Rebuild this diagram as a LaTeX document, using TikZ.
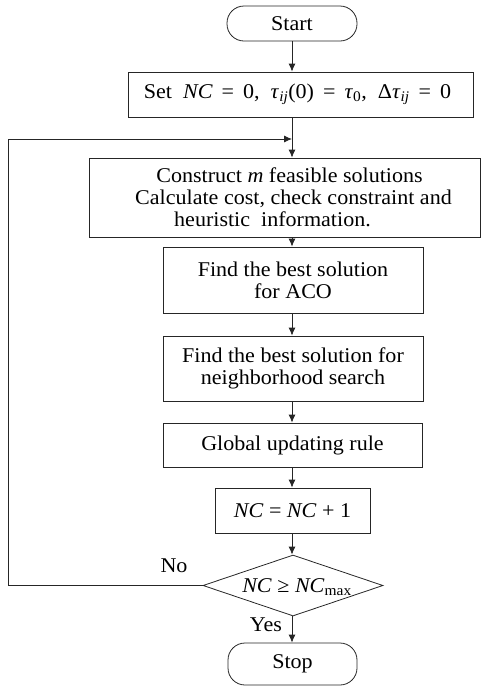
\documentclass[tikz,border=0pt]{standalone}
\usepackage{fontspec}
\setmainfont{Liberation Serif}[FakeStretch=1.05]
\usetikzlibrary{arrows.meta,shapes.geometric}
\tikzset{
  base/.style={draw=black!85, line width=0.8pt, font=\fontsize{21}{22}\selectfont, align=center, inner sep=2pt},
  procbox/.style={base, rectangle},
  termbox/.style={base, rectangle, rounded corners=17pt},
  decbox/.style={base, diamond, inner sep=0pt},
  lbl/.style={font=\fontsize{21}{22}\selectfont, inner sep=0pt},
  arr/.style={draw=black!85, line width=0.8pt, -{Latex[length=8pt,width=7pt]}},
  ln/.style={draw=black!85, line width=0.8pt}
}
\begin{document}
\begin{tikzpicture}[x=1pt,y=-1pt]
\useasboundingbox (0,0) rectangle (482,686);
\node[termbox, minimum width=130pt, minimum height=35pt] (start) at (292,23.5) {Start};
\node[procbox, minimum width=345pt, minimum height=45pt] (set) at (300.5,94.5)
  {Set\ \ \textit{NC} \,=\, 0,\ \ \textit{τ}\textsubscript{\textit{ij}}(0) \,=\, \textit{τ}\textsubscript{0},\ \ Δ\textit{τ}\textsubscript{\textit{ij}} \,=\, 0\hspace*{6pt}};
\node[procbox, minimum width=391pt, minimum height=79pt] (cons) at (284.5,197.5)
  {\hspace*{10pt}Construct \textit{m} feasible solutions\\\hspace*{18pt}Calculate cost, check constraint and\\heuristic\ \ information.\hspace*{24pt}};
\node[procbox, minimum width=260pt, minimum height=66pt] (aco) at (293,280)
  {Find the best solution\\for ACO};
\node[procbox, minimum width=260pt, minimum height=65pt] (ns) at (293,368.5)
  {Find the best solution for\\neighborhood search};
\node[procbox, minimum width=259pt, minimum height=44pt] (glob) at (292.5,445)
  {Global updating rule};
\node[procbox, minimum width=155pt, minimum height=45pt] (inc) at (292.5,510.5)
  {\textit{NC} = \textit{NC} + 1};
\node[decbox, minimum width=180pt, minimum height=61pt] (dec) at (293,585.5) {};
\node[lbl] (dectext) at (297,587) {\textit{NC} ≥ \textit{NC}\textsubscript{max}};
\node[termbox, minimum width=129pt, minimum height=42pt] (stop) at (292.5,664) {Stop};
\node[lbl] (yes) at (266,625) {Yes};
\node[lbl] (no) at (174,566) {No};
\coordinate (loopin) at (292,139);
\coordinate (loopcorner) at (8,139);
\draw[arr] (start) -- (start |- set.north);
\draw[arr] (set.south -| start) -- (cons.north -| start);
\draw[arr] (cons.south -| start) -- (aco.north -| start);
\draw[arr] (aco.south -| start) -- (ns.north -| start);
\draw[arr] (ns.south -| start) -- (glob.north -| start);
\draw[arr] (glob.south -| start) -- (inc.north -| start);
\draw[arr] (inc.south -| start) -- (dec.north -| start);
\draw[arr] (dec.south -| start) -- (stop.north -| start);
\draw[arr] (dec.west) -| (loopcorner) -- (loopin);
\end{tikzpicture}
\end{document}
